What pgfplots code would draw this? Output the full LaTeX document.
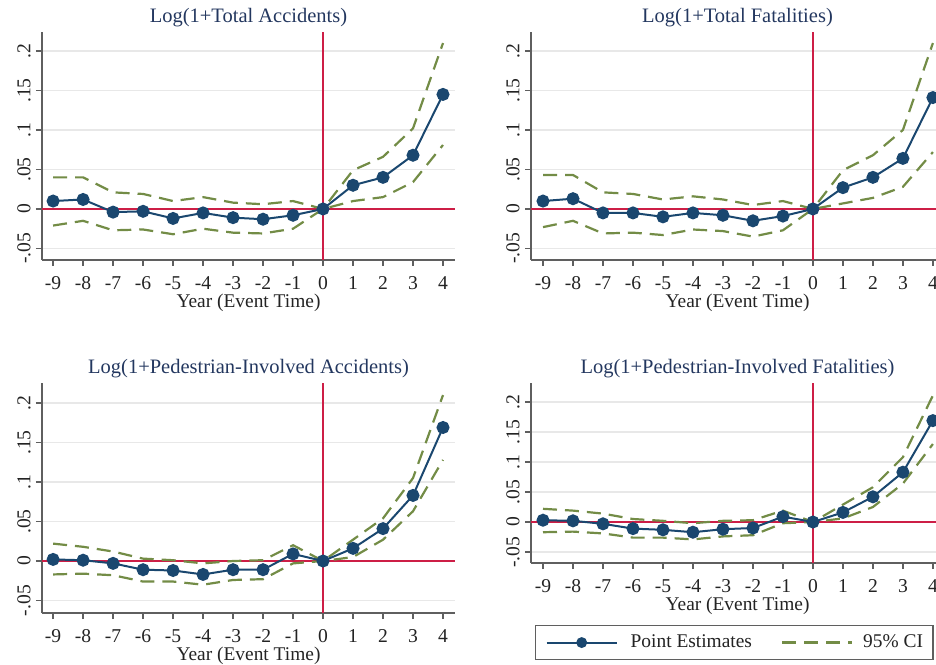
\documentclass[border=0pt]{standalone}
\usepackage{fontspec}
\setmainfont{Liberation Serif}
\usepackage{pgfplots}
\usepackage{pgfplotstable}
\pgfplotsset{compat=1.18}
\definecolor{stnavy}{RGB}{26,71,111}
\definecolor{stgreen}{RGB}{115,140,70}
\definecolor{stred}{RGB}{205,30,70}
\definecolor{stgrid}{RGB}{232,232,232}
\definecolor{staxis}{RGB}{95,95,95}
\definecolor{sttitle}{RGB}{35,55,95}
\definecolor{sttext}{RGB}{35,35,35}

\pgfplotstableread{
x b lo hi
-9 0.010 -0.021 0.040
-8 0.012 -0.015 0.040
-7 -0.004 -0.027 0.021
-6 -0.003 -0.026 0.019
-5 -0.012 -0.032 0.010
-4 -0.005 -0.025 0.015
-3 -0.011 -0.030 0.008
-2 -0.013 -0.031 0.006
-1 -0.008 -0.025 0.010
0 0 0 0
1 0.030 0.010 0.049
2 0.040 0.015 0.066
3 0.068 0.034 0.102
4 0.145 0.081 0.210
}\dataA
\pgfplotstableread{
x b lo hi
-9 0.010 -0.023 0.043
-8 0.013 -0.015 0.043
-7 -0.005 -0.031 0.021
-6 -0.005 -0.030 0.019
-5 -0.010 -0.033 0.012
-4 -0.005 -0.026 0.016
-3 -0.008 -0.028 0.012
-2 -0.015 -0.035 0.005
-1 -0.009 -0.027 0.010
0 0 0 0
1 0.027 0.007 0.049
2 0.040 0.014 0.068
3 0.064 0.028 0.100
4 0.141 0.072 0.210
}\dataB
\pgfplotstableread{
x b lo hi
-9 0.002 -0.017 0.022
-8 0.001 -0.016 0.018
-7 -0.003 -0.018 0.012
-6 -0.011 -0.026 0.003
-5 -0.012 -0.026 0.001
-4 -0.017 -0.030 -0.003
-3 -0.011 -0.024 0.000
-2 -0.011 -0.023 0.001
-1 0.009 -0.003 0.020
0 0 0 0
1 0.016 0.005 0.027
2 0.041 0.027 0.054
3 0.083 0.063 0.105
4 0.169 0.128 0.210
}\dataC
\pgfplotstableread{
x b lo hi
-9 0.003 -0.017 0.022
-8 0.002 -0.016 0.019
-7 -0.003 -0.019 0.014
-6 -0.011 -0.026 0.005
-5 -0.013 -0.026 0.002
-4 -0.017 -0.029 -0.002
-3 -0.012 -0.024 0.002
-2 -0.010 -0.022 0.003
-1 0.009 -0.002 0.019
0 0 0 0
1 0.016 0.006 0.029
2 0.042 0.025 0.058
3 0.083 0.064 0.108
4 0.169 0.130 0.211
}\dataD

\tikzset{refl/.style={stred, line width=0.9bp}}
\pgfplotsset{
  panel/.style={
    scale only axis, width=206.5bp, anchor=south west,
    axis x line*=bottom, axis y line*=left,
    axis line style={staxis, line width=0.6bp, -},
    tick align=outside, major tick length=3bp,
    tick style={staxis, line width=0.6bp},
    xtick={-9,-8,-7,-6,-5,-4,-3,-2,-1,0,1,2,3,4},
    xticklabels={-9,-8,-7,-6,-5,-4,-3,-2,-1,0,1,2,3,4},
    ytick={-0.05,0,0.05,0.1,0.15,0.2},
    yticklabels={-.05,0,.05,.1,.15,.2},
    ymajorgrids, grid style={stgrid, line width=0.6bp},
    ticklabel style={font=\fontsize{9.8bp}{11bp}\selectfont, text=sttext, inner sep=0pt},
    xticklabel style={anchor=center},
    xticklabel shift=8.5bp,
    yticklabel style={anchor=center, rotate=90},
    yticklabel shift=6bp,
    every axis title/.style={font=\fontsize{10.25bp}{12bp}\selectfont, text=sttitle, at={(axis description cs:0.5,1)}, anchor=center, inner sep=0pt, yshift=7.4bp},
    xlabel={Year (Event Time)},
    xlabel style={font=\fontsize{9.7bp}{11bp}\selectfont, text=sttext, at={(axis description cs:0.5,0)}, anchor=center, inner sep=0pt, yshift=-21.5bp},
  },
  ci/.style={stgreen, line width=1.1bp, dash pattern=on 7bp off 4bp, forget plot},
  pe/.style={stnavy, line width=1bp, mark=*, mark size=2.75bp, mark options={solid, fill=stnavy, draw=stnavy}},
}
\newcommand{\reflines}{%
  \draw[refl] ({rel axis cs:0,0}|-{axis cs:0,0}) -- ({rel axis cs:1,0}|-{axis cs:0,0});
  \draw[refl] ({axis cs:0,0}|-{rel axis cs:0,0}) -- ({axis cs:0,0}|-{rel axis cs:0,1});
}

\begin{document}
\begin{tikzpicture}
\path[use as bounding box, clip] (0,0) rectangle (468bp,332.5bp);

\begin{axis}[panel, at={(21bp,202.5bp)}, height=114bp,
  xmin=-9.37, xmax=4.40, ymin=-0.0646, ymax=0.224,
  title={Log(1+Total Accidents)}]
\reflines
\addplot[ci] table[x=x,y=hi]{\dataA};
\addplot[ci] table[x=x,y=lo]{\dataA};
\addplot[pe] table[x=x,y=b]{\dataA};
\end{axis}

\begin{axis}[panel, at={(265.5bp,202.5bp)}, height=114bp,
  xmin=-9.40, xmax=4.37, ymin=-0.0646, ymax=0.224,
  title={Log(1+Total Fatalities)}]
\reflines
\addplot[ci] table[x=x,y=hi]{\dataB};
\addplot[ci] table[x=x,y=lo]{\dataB};
\addplot[pe] table[x=x,y=b]{\dataB};
\end{axis}

\begin{axis}[panel, at={(21bp,26bp)}, height=115bp,
  xmin=-9.37, xmax=4.40, ymin=-0.0658, ymax=0.2253,
  title={Log(1+Pedestrian-Involved Accidents)}]
\reflines
\addplot[ci] table[x=x,y=hi]{\dataC};
\addplot[ci] table[x=x,y=lo]{\dataC};
\addplot[pe] table[x=x,y=b]{\dataC};
\end{axis}

\begin{axis}[panel, at={(265.5bp,51bp)}, height=90bp,
  xmin=-9.40, xmax=4.37, ymin=-0.0683, ymax=0.2317,
  title={Log(1+Pedestrian-Involved Fatalities)},
  legend columns=2,
  legend style={at={(axis description cs:0.0097,-0.344)}, anchor=north west,
    draw=staxis, line width=0.7bp, fill=white,
    font=\fontsize{9.7bp}{11bp}\selectfont, text=sttext,
    inner xsep=5bp, inner ysep=4.5bp,
    nodes={inner sep=0pt},
    column sep=0pt,
    /tikz/column 1/.style={column sep=6.5bp},
    /tikz/column 2/.style={column sep=14.5bp},
    /tikz/column 3/.style={column sep=5bp}},
  legend image code/.code={\draw[mark repeat=2,mark phase=2,#1] plot coordinates {(0bp,0bp) (17.5bp,0bp) (35bp,0bp)};}]
\addlegendimage{pe, mark size=2.2bp}
\addlegendentry{Point Estimates}
\addlegendimage{stgreen, line width=1.1bp, dash pattern=on 7bp off 4bp}
\addlegendentry{95\% CI}
\reflines
\addplot[ci] table[x=x,y=hi]{\dataD};
\addplot[ci] table[x=x,y=lo]{\dataD};
\addplot[pe, forget plot] table[x=x,y=b]{\dataD};
\end{axis}
\end{tikzpicture}
\end{document}
